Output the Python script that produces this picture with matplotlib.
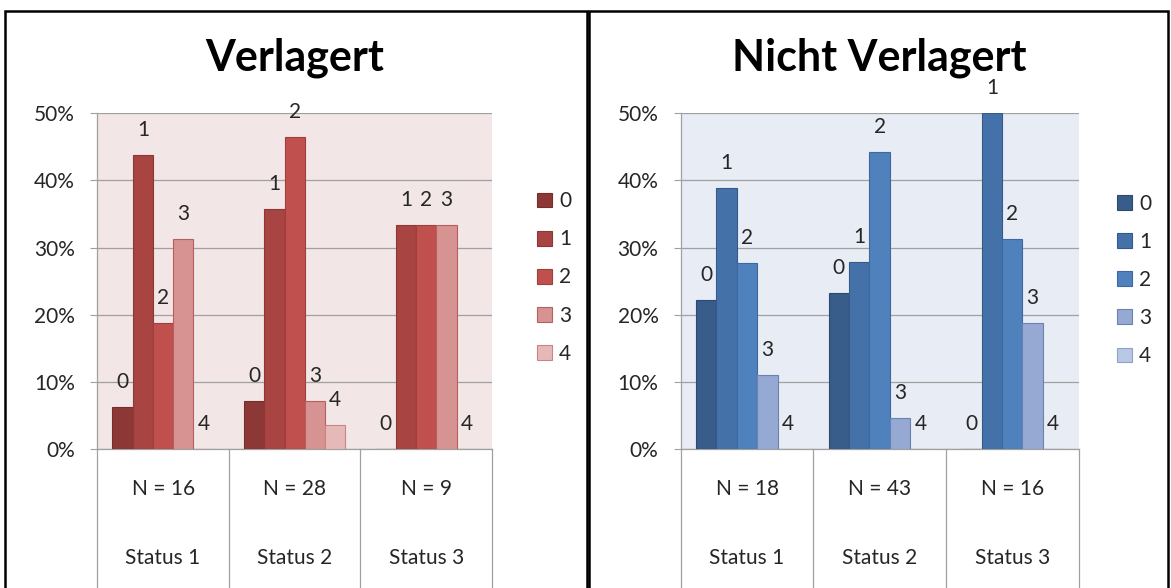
import matplotlib
matplotlib.use('Agg')
import matplotlib.pyplot as plt
import numpy as np
from matplotlib.patches import Rectangle
from matplotlib.ticker import FuncFormatter
import matplotlib.transforms as mtransforms

plt.rcParams['font.family'] = ['Lato', 'DejaVu Sans']

# percentages per answer class (0..4) for Status 1..3
categories = ['Status 1', 'Status 2', 'Status 3']
series = ['0', '1', '2', '3', '4']

verl_n = [16, 28, 9]
verl_vals = [
    [6.25, 7.14, 0.0],      # 0
    [43.75, 35.71, 33.33],  # 1
    [18.75, 46.43, 33.33],  # 2
    [31.25, 7.14, 33.33],   # 3
    [0.0, 3.57, 0.0],       # 4
]

nicht_n = [18, 43, 16]
nicht_vals = [
    [22.22, 23.26, 0.0],
    [38.89, 27.91, 50.0],
    [27.78, 44.19, 31.25],
    [11.11, 4.65, 18.75],
    [0.0, 0.0, 0.0],
]

reds = ['#8C3836', '#A84442', '#C0504D', '#D79391', '#E6B9B8']
red_edges = ['#762d2c', '#8c3836', '#9e3f3c', '#b5605e', '#c78584']
blues = ['#385D8A', '#4472A8', '#4F81BD', '#95A9D3', '#B9C8E3']
blue_edges = ['#2c4a6e', '#35598a', '#3d6a9e', '#6a82b2', '#8ea2c8']

W, H = 1171, 588
fig = plt.figure(figsize=(W / 100, H / 100), dpi=100)

grid_col = '#a0a0a0'
txt_col = '#262626'
fs = 15


def draw_panel(left_px, right_px, title, vals, ns, colors, edges, bg, leg_x, leg_y):
    top_px, zero_px = 113.3, 449.3
    ax = fig.add_axes([left_px / W, 1 - zero_px / H, (right_px - left_px) / W, (zero_px - top_px) / H])
    ax.set_facecolor(bg)
    bw = 1 / 6.5
    x = np.arange(len(categories))
    for i, s in enumerate(series):
        v = np.array(vals[i]) / 100
        pos = x + (i - 2) * bw
        ax.bar(pos, v, width=bw, color=colors[i], edgecolor=edges[i], linewidth=0.8, label=s, zorder=3)
        for px_, vv in zip(pos, v):
            ax.annotate(s, (px_, vv), xytext=(0, 18), textcoords='offset points',
                        ha='center', va='center', fontsize=fs, color=txt_col,
                        annotation_clip=False, zorder=4)
    ax.set_xlim(-0.5, 2.5)
    ax.set_ylim(0, 0.5)
    ax.set_yticks(np.arange(0, 0.51, 0.1))
    ax.yaxis.set_major_formatter(FuncFormatter(lambda y, p: f'{y * 100:.0f}%'))
    ax.tick_params(axis='y', length=5, color=grid_col, pad=11, labelsize=fs, labelcolor=txt_col)
    ax.set_xticks([])
    ax.yaxis.grid(True, color=grid_col, linewidth=0.9)
    ax.set_axisbelow(True)
    for sp in ['top', 'right']:
        ax.spines[sp].set_visible(False)
    for sp in ['left', 'bottom']:
        ax.spines[sp].set_color(grid_col)
        ax.spines[sp].set_linewidth(0.9)

    # table under the plot
    trans = mtransforms.blended_transform_factory(ax.transData, ax.transAxes)
    for b in [-0.5, 0.5, 1.5, 2.5]:
        ax.plot([b, b], [0, -0.5], transform=trans, color=grid_col, lw=0.9, clip_on=False)
    for j, cat in enumerate(categories):
        ax.text(j, -0.119, f'N = {ns[j]}', transform=trans, ha='center', va='center',
                fontsize=fs, color=txt_col)
        ax.text(j, -0.324, cat, transform=trans, ha='center', va='center',
                fontsize=fs, color=txt_col)

    fig.text((left_px + right_px) / 2 / W, 1 - 70 / H, title, ha='center', va='baseline',
             fontsize=31, fontweight='bold', color='black')

    ax.legend(loc='center left', bbox_to_anchor=(leg_x / W, 1 - leg_y / H),
              bbox_transform=fig.transFigure, frameon=False, fontsize=fs,
              handlelength=0.72, handleheight=0.72, handletextpad=0.34,
              labelspacing=0.87, borderpad=0, borderaxespad=0, labelcolor=txt_col)
    return ax


draw_panel(97.3, 492, 'Verlagert', verl_vals, verl_n, reds, red_edges, '#F2E6E6', 537, 277.5)
draw_panel(680.7, 1078.6, 'Nicht Verlagert', nicht_vals, nicht_n, blues, blue_edges, '#E8ECF4', 1117, 280)

# black frames around each chart
fig.add_artist(Rectangle((5 / W, -0.05), (587 - 5) / W, 1.05 - 11 / H, transform=fig.transFigure,
                         fill=False, edgecolor='black', linewidth=1.8))
fig.add_artist(Rectangle((589 / W, -0.05), (1168 - 589) / W, 1.05 - 11 / H, transform=fig.transFigure,
                         fill=False, edgecolor='black', linewidth=1.8))

fig.savefig('out.png', dpi=100)
